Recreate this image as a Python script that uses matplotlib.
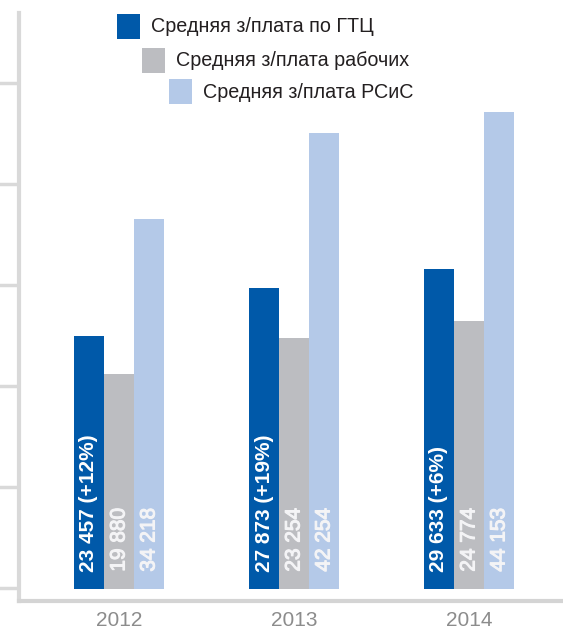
import matplotlib
matplotlib.use("Agg")
import matplotlib.pyplot as plt
import matplotlib.patheffects as pe
import numpy as np
from matplotlib.patches import Rectangle

years = ["2012", "2013", "2014"]
series_names = ["Средняя з/плата по ГТЦ", "Средняя з/плата рабочих", "Средняя з/плата РСиС"]
gtc = [23457, 27873, 29633]
workers = [19880, 23254, 24774]
rsis = [34218, 42254, 44153]
bar_labels = [
    ["23 457 (+12%)", "27 873 (+19%)", "29 633 (+6%)"],
    ["19 880", "23 254", "24 774"],
    ["34 218", "42 254", "44 153"],
]
colors = ["#0059A9", "#BCBDC1", "#B4C9E8"]

plt.rcParams['font.family'] = ['Liberation Sans', 'DejaVu Sans']

W, H = 563, 630
fig = plt.figure(figsize=(W / 100, H / 100), dpi=100)
# axes: left spine at x=19, bottom spine at y=601, top at y=13
ax = fig.add_axes([19 / W, (H - 601) / H, (W - 19) / W, (601 - 13) / H])

scale = 0.0108  # px per unit
ax.set_ylim(-12 / scale, (589 - 13) / scale)
ax.set_xlim(-100 / 175, (W - 119) / 175)

x = np.arange(len(years))
bw = 30 / 175
all_series = [gtc, workers, rsis]
for i, (vals, col) in enumerate(zip(all_series, colors)):
    pos = x + (i - 1) * bw
    ax.bar(pos, vals, width=bw, color=col, linewidth=0)
    for p, lab in zip(pos, bar_labels[i]):
        if i == 0:
            ax.annotate(lab, xy=(p, 0), xytext=(0, 12.5), textcoords='offset points',
                        rotation=90, ha='center', va='bottom', color='white',
                        fontsize=15, fontweight='bold')
        else:
            ax.annotate(lab, xy=(p, 0), xytext=(0, 12.5), textcoords='offset points',
                        rotation=90, ha='center', va='bottom', color='#F4F4F6',
                        fontsize=15, fontweight='normal',
                        path_effects=[pe.withStroke(linewidth=0.8, foreground='#F4F4F6')])

ax.set_xticks(x)
ax.set_xticklabels(years, fontsize=15, color='#8C8C8C')
ax.tick_params(axis='x', length=0, pad=7)
ax.set_yticks(np.arange(0, 6) * 101 / scale + 1 / scale)
ax.set_yticklabels([])
ax.tick_params(axis='y', length=15, width=2.5, color='#D9D9D9', direction='out')

for s in ['top', 'right']:
    ax.spines[s].set_visible(False)
ax.spines['left'].set_color('#D9D9D9')
ax.spines['left'].set_linewidth(3)
ax.spines['bottom'].set_color('#D4D4D4')
ax.spines['bottom'].set_linewidth(3)

# staggered legend
leg_boxes = [(117, 14), (142, 48), (169, 79)]
for (lx, ly), col, name in zip(leg_boxes, colors, series_names):
    fig.patches.append(Rectangle((lx / W, 1 - (ly + 25) / H), 23 / W, 25 / H,
                                 transform=fig.transFigure, color=col, linewidth=0))
    fig.text((lx + 34) / W, 1 - (ly + 13) / H, name, fontsize=14.2,
             color='#231F20', va='center', ha='left')

fig.savefig("out.png", dpi=100)
